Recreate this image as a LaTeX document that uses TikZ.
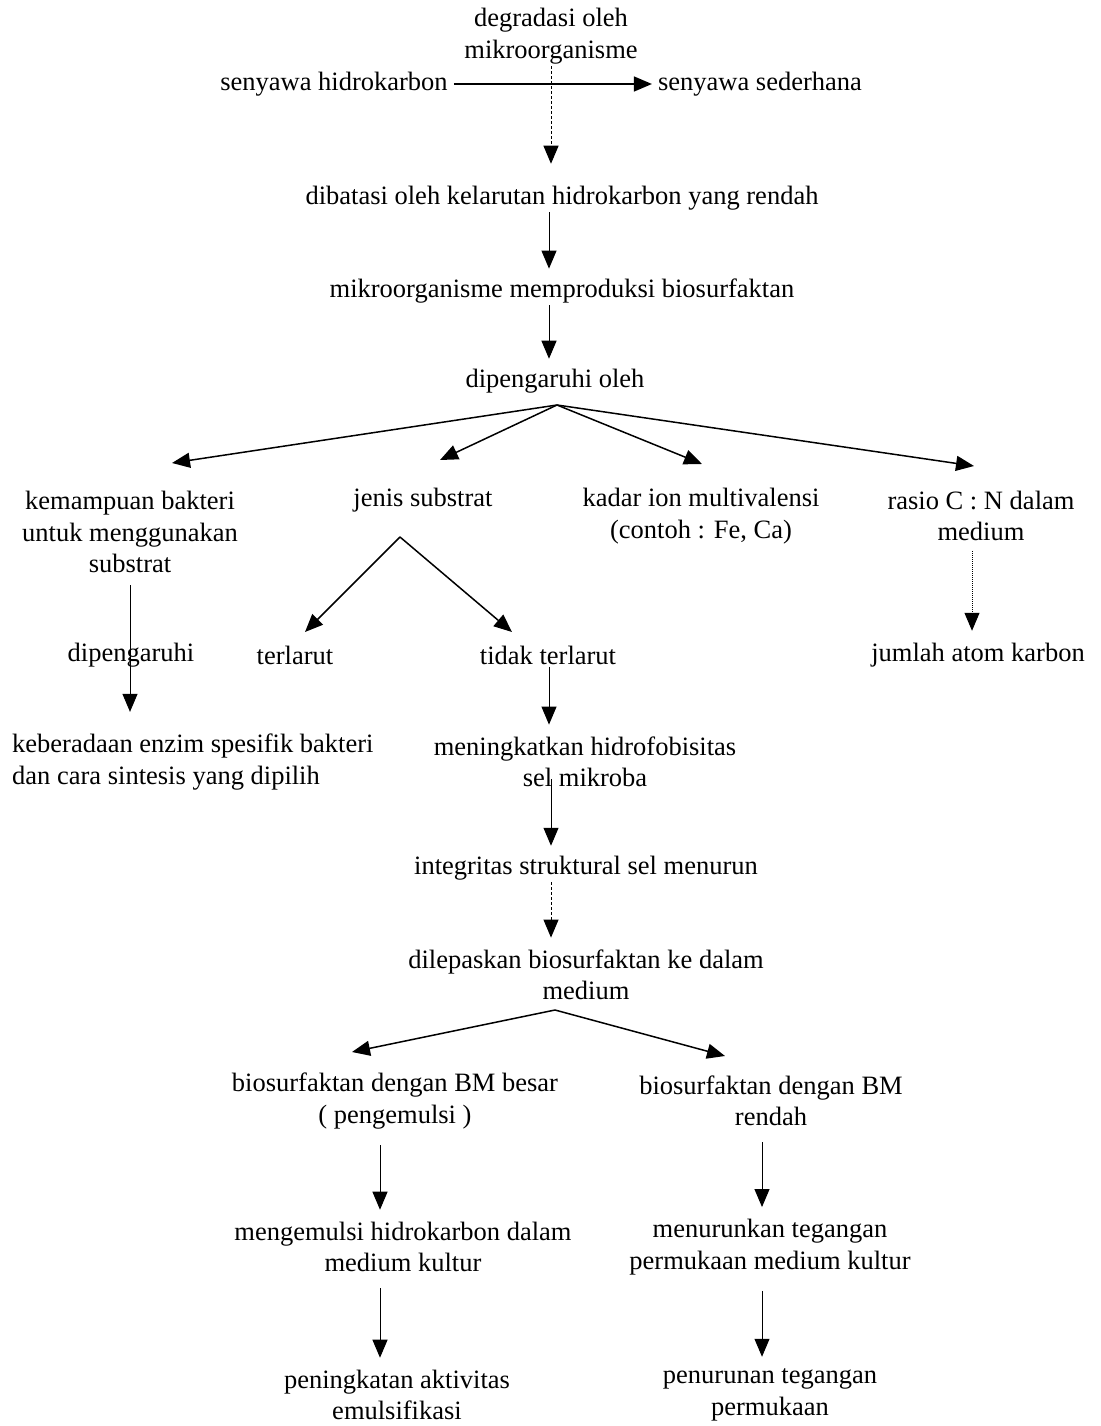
\documentclass[tikz,border=0pt]{standalone}
\usepackage{fontspec}
\setmainfont{Liberation Serif}
\usetikzlibrary{arrows.meta,calc}
\begin{document}
\begin{tikzpicture}[x=1pt,y=-1pt,
  txt/.style={inner sep=2pt,align=center,font=\fontsize{26.5}{31.5}\selectfont},
  arr/.style={line width=1.5pt,-{Triangle[length=18pt,width=15pt]}},
  thinarr/.style={line width=1pt,-{Triangle[length=18pt,width=15pt]}}]
\useasboundingbox (0,0) rectangle (1100,1426);
\fill[white] (0,0) rectangle (1100,1426);
% columns
\coordinate (colM) at (549,0);
\coordinate (colM2) at (551,0);
\coordinate (colK) at (130,0);
\coordinate (colR) at (972,0);
\coordinate (colL) at (380,0);
\coordinate (colRR) at (762,0);
% nodes
\node[txt] (deg) at (551,36) {degradasi oleh\\mikroorganisme};
\node[txt] (hc) at (334,84) {senyawa hidrokarbon};
\node[txt] (ss) at (760,84) {senyawa sederhana};
\node[txt] (dib) at (562,198) {dibatasi oleh kelarutan hidrokarbon yang rendah};
\node[txt] (mik) at (562,291) {mikroorganisme memproduksi biosurfaktan};
\node[txt] (dip) at (555,381) {dipengaruhi oleh};
\node[txt] (kem) at (130,532) {kemampuan bakteri\\untuk menggunakan\\substrat};
\node[txt] (jen) at (423,500) {jenis substrat};
\node[txt] (kad) at (701,516) {kadar ion multivalensi\\(contoh : Fe, Ca)};
\node[txt] (ras) at (981,516) {rasio C : N dalam\\medium};
\node[txt] (dpg) at (131,655) {dipengaruhi};
\node[txt] (ter) at (295,655) {terlarut};
\node[txt] (tid) at (548,655) {tidak terlarut};
\node[txt] (jum) at (978,655) {jumlah atom karbon};
\node[txt,align=left,anchor=west] (keb) at (10,762) {keberadaan enzim spesifik bakteri\\dan cara sintesis yang dipilih};
\node[txt] (men) at (585,762) {meningkatkan hidrofobisitas\\sel mikroba};
\node[txt] (int) at (586,868) {integritas struktural sel menurun};
\node[txt] (dil) at (586,975) {dilepaskan biosurfaktan ke dalam\\medium};
\node[txt] (bmb) at (395,1101) {biosurfaktan dengan BM besar\\( pengemulsi )};
\node[txt] (bmr) at (771,1101) {biosurfaktan dengan BM\\rendah};
\node[txt] (meng) at (403,1247) {mengemulsi hidrokarbon dalam\\medium kultur};
\node[txt] (menu) at (770,1247) {menurunkan tegangan\\permukaan medium kultur};
\node[txt] (pen) at (397,1395) {peningkatan aktivitas\\emulsifikasi};
\node[txt] (penu) at (770,1395) {penurunan tegangan\\permukaan};
% fan tip coordinates
\coordinate (fo) at (557,405);
\coordinate (f1) at (172,463);
\coordinate (f2) at (440,460);
\coordinate (f3) at (702,464);
\coordinate (f4) at (974,466);
\coordinate (jo) at (400,537);
\coordinate (j1) at (305,632);
\coordinate (j2) at (512,632);
\coordinate (do) at (555,1010);
\coordinate (d1) at (352,1052);
\coordinate (d2) at (725,1056);
% connectors
\draw[arr] ([xshift=4pt]hc.east) -- ([xshift=-4pt]ss.west);
\draw[thinarr,densely dashed] (deg.south -| colM2) -- ([yshift=20pt]dib.north -| colM2);
\draw[thinarr] (dib.south -| colM) -- ([yshift=8pt]mik.north -| colM);
\draw[thinarr] (mik.south -| colM) -- ([yshift=8pt]dip.north -| colM);
\draw[arr] (fo) -- (f1);
\draw[arr] (fo) -- (f2);
\draw[arr] (fo) -- (f3);
\draw[arr] (fo) -- (f4);
\draw[arr] (jo) -- (j1);
\draw[arr] (jo) -- (j2);
\draw[thinarr] ([yshift=-10pt]kem.south -| colK) -- ([yshift=20pt]keb.north -| colK);
\draw[thinarr,densely dotted] ([yshift=-8pt]ras.south -| colR) -- ([yshift=10pt]jum.north -| colR);
\draw[thinarr] (tid.south -| colM) -- ([yshift=10pt]men.north -| colM);
\draw[thinarr] ([yshift=10pt]men.south -| colM2) -- ([yshift=8pt]int.north -| colM2);
\draw[thinarr,densely dashed] (int.south -| colM2) -- ([yshift=10pt]dil.north -| colM2);
\draw[arr] (do) -- (d1);
\draw[arr] (do) -- (d2);
\draw[thinarr] ([yshift=-14pt]bmb.south -| colL) -- ([yshift=10pt]meng.north -| colL);
\draw[thinarr] ([yshift=-14pt]bmr.south -| colRR) -- ([yshift=10pt]menu.north -| colRR);
\draw[thinarr] ([yshift=-14pt]meng.south -| colL) -- ([yshift=10pt]pen.north -| colL);
\draw[thinarr] ([yshift=-14pt]menu.south -| colRR) -- ([yshift=10pt]penu.north -| colRR);
\end{tikzpicture}
\end{document}
